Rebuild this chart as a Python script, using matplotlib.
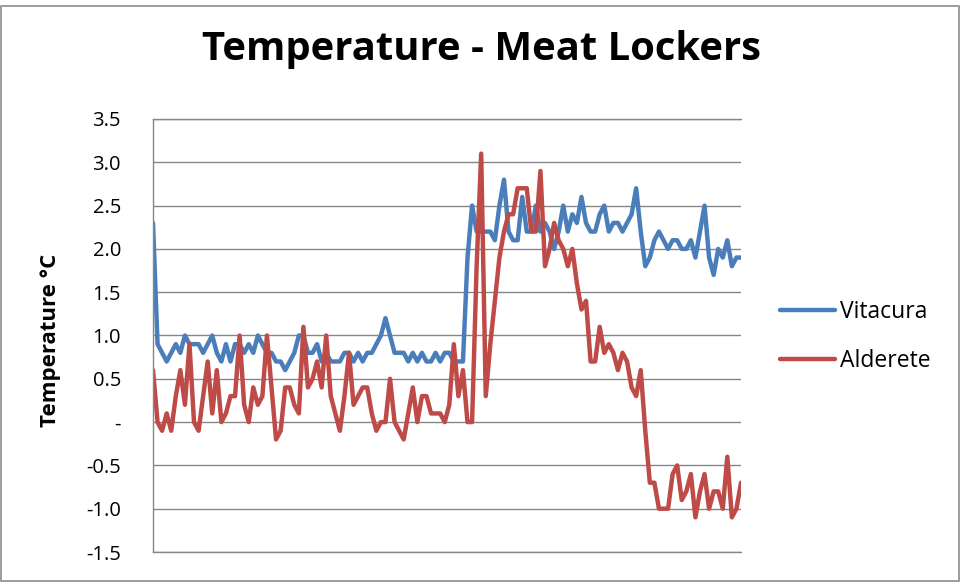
import matplotlib
matplotlib.use("Agg")
from matplotlib import pyplot as plt
from matplotlib.patches import Rectangle

# readings of the two meat lockers, one per sample
vitacura = [
    2.3, 0.9, 0.8, 0.7, 0.8, 0.9, 0.8, 1.0, 0.9, 0.9,
    0.9, 0.8, 0.9, 1.0, 0.8, 0.7, 0.9, 0.7, 0.9, 0.9,
    0.8, 0.9, 0.8, 1.0, 0.9, 0.8, 0.8, 0.7, 0.7, 0.6,
    0.7, 0.8, 1.0, 1.0, 0.8, 0.8, 0.9, 0.7, 0.8, 0.7,
    0.7, 0.7, 0.8, 0.8, 0.7, 0.8, 0.7, 0.8, 0.8, 0.9,
    1.0, 1.2, 1.0, 0.8, 0.8, 0.8, 0.7, 0.8, 0.7, 0.8,
    0.7, 0.7, 0.8, 0.7, 0.8, 0.8, 0.7, 0.7, 0.7, 1.9,
    2.5, 2.2, 2.2, 2.2, 2.2, 2.1, 2.5, 2.8, 2.2, 2.1,
    2.1, 2.6, 2.2, 2.2, 2.5, 2.2, 2.3, 2.2, 2.0, 2.2,
    2.5, 2.2, 2.4, 2.3, 2.6, 2.3, 2.2, 2.2, 2.4, 2.5,
    2.2, 2.3, 2.3, 2.2, 2.3, 2.4, 2.7, 2.2, 1.8, 1.9,
    2.1, 2.2, 2.1, 2.0, 2.1, 2.1, 2.0, 2.0, 2.1, 1.9,
    2.2, 2.5, 1.9, 1.7, 2.0, 1.9, 2.1, 1.8, 1.9, 1.9,
]
alderete = [
    0.6, 0.0, -0.1, 0.1, -0.1, 0.3, 0.6, 0.2, 0.9, 0.0,
    -0.1, 0.3, 0.7, 0.1, 0.6, 0.0, 0.1, 0.3, 0.3, 1.0,
    0.2, 0.0, 0.4, 0.2, 0.3, 1.0, 0.4, -0.2, -0.1, 0.4,
    0.4, 0.2, 0.1, 1.1, 0.4, 0.5, 0.7, 0.4, 1.0, 0.3,
    0.1, -0.1, 0.3, 0.8, 0.2, 0.3, 0.4, 0.4, 0.1, -0.1,
    0.0, 0.0, 0.5, 0.0, -0.1, -0.2, 0.1, 0.4, 0.0, 0.3,
    0.3, 0.1, 0.1, 0.1, 0.0, 0.2, 0.9, 0.3, 0.6, 0.0,
    0.0, 1.8, 3.1, 0.3, 0.9, 1.4, 1.9, 2.2, 2.4, 2.4,
    2.7, 2.7, 2.7, 2.2, 2.2, 2.9, 1.8, 2.0, 2.3, 2.1,
    2.0, 1.8, 2.0, 1.6, 1.3, 1.4, 0.7, 0.7, 1.1, 0.8,
    0.9, 0.8, 0.6, 0.8, 0.7, 0.4, 0.3, 0.6, -0.1, -0.7,
    -0.7, -1.0, -1.0, -1.0, -0.6, -0.5, -0.9, -0.8, -0.6, -1.1,
    -0.8, -0.6, -1.0, -0.8, -0.8, -1.0, -0.4, -1.1, -1.0, -0.7,
]
y_ticks = [3.5, 3.0, 2.5, 2.0, 1.5, 1.0, 0.5, 0.0, -0.5, -1.0, -1.5]
y_tick_labels = ["3.5", "3.0", "2.5", "2.0", "1.5", "1.0", "0.5", "-",
                 "-0.5", "-1.0", "-1.5"]

BLUE = "#4a7ebb"
RED = "#be4b48"
GRID = "#868686"

plt.rcParams['font.family'] = ['Open Sans', 'DejaVu Sans']

W, H = 965, 583
fig = plt.figure(figsize=(W / 100, H / 100), dpi=100)
ax = fig.add_axes([153 / W, 1 - 552 / H, (741 - 153) / W, (552 - 119) / H])

samples = range(len(vitacura))
ax.plot(samples, vitacura, color=BLUE, lw=3.2, solid_joinstyle='round',
        solid_capstyle='round', label="Vitacura")
ax.plot(samples, alderete, color=RED, lw=3.2, solid_joinstyle='round',
        solid_capstyle='round', label="Alderete")

ax.set_xlim(0, len(vitacura) - 1)
ax.set_ylim(-1.5, 3.5)
ax.set_xticks([])
ax.set_yticks(y_ticks)
ax.set_yticklabels(y_tick_labels)
ax.tick_params(axis='y', length=0, pad=23, labelsize=14.5)

ax.grid(True, axis='y', color=GRID, lw=1.0)
ax.set_axisbelow(True)
ax.spines['right'].set_visible(False)
for side in ['top', 'bottom', 'left']:
    ax.spines[side].set_color(GRID)
    ax.spines[side].set_linewidth(1.0)

# chart title and axis title
fig.text(481 / W, 1 - 60 / H, "Temperature - Meat Lockers", ha='center',
         va='baseline', fontsize=28.8, fontweight='bold')
fig.text(51 / W, 1 - 340 / H, "Temperature °C", rotation=90, ha='center',
         va='center', fontsize=16, fontweight='bold')

ax.legend(loc='center left', bbox_to_anchor=(780 / W, 1 - 336.5 / H),
          bbox_transform=fig.transFigure, frameon=False, fontsize=16.5,
          handlelength=2.4, handletextpad=0.2, labelspacing=1.05,
          borderpad=0, borderaxespad=0)

# outer chart border
fig.patches.append(Rectangle((1 / W, 1 - 581 / H), 958 / W, 575 / H,
                             transform=fig.transFigure, fill=False,
                             edgecolor="#8c8c8c", lw=1.2))

fig.savefig("out.png", dpi=100)
